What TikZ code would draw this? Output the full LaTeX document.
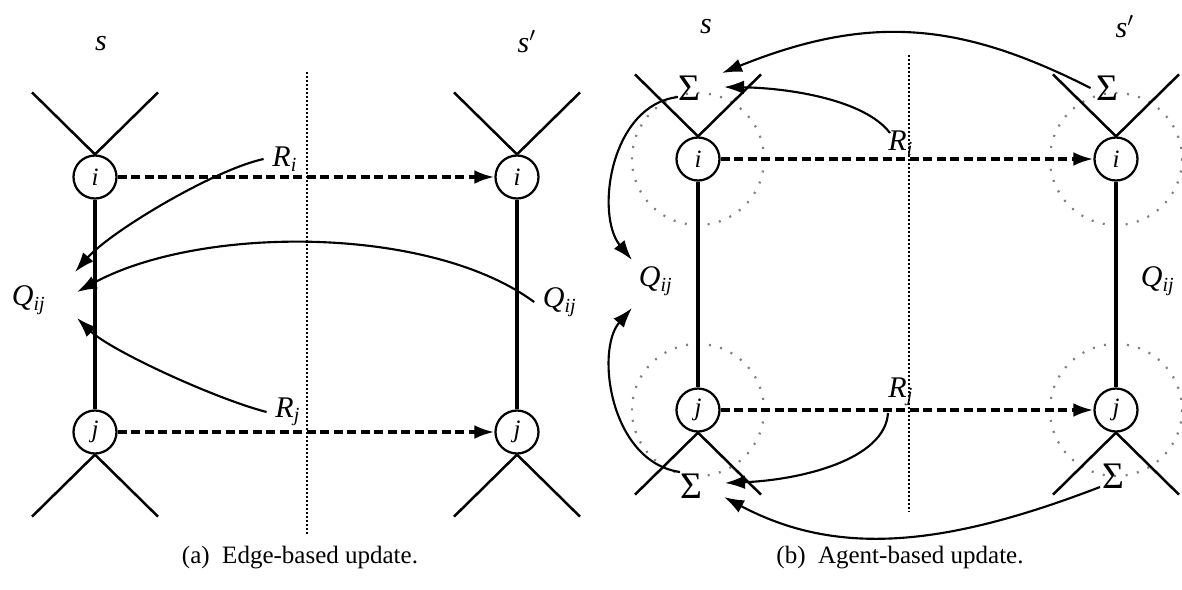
\documentclass[tikz,border=0pt]{standalone}
\usepackage{fontspec}
\setmainfont{Liberation Serif}
\usetikzlibrary{arrows.meta}

\begin{document}
\begin{tikzpicture}[x=0.4pt,y=-0.4pt,
  agent/.style={draw,circle,fill=white,line width=0.9pt,minimum size=17.2pt,inner sep=0pt,font=\itshape},
  lab/.style={font=\large\itshape},
  sig/.style={font=\fontsize{15}{15}\selectfont,inner sep=2pt},
  branch/.style={line width=1pt},
  link/.style={line width=1.4pt},
  msg/.style={line width=1.3pt,dash pattern=on 3.6pt off 1.8pt,-{Latex[length=8pt,width=5.5pt]}},
  upd/.style={line width=0.85pt,-{Latex[length=8pt,width=5.5pt]}},
  cut/.style={line width=0.6pt,dash pattern=on 0.8pt off 0.8pt},
  zone/.style={gray,line width=0.9pt,dash pattern=on 0.8pt off 3.8pt}]
\useasboundingbox (0,0) rectangle (1182,589);

% (a) edge-based
\draw[cut] (307,72) -- (307,535);
\node[lab] (as) at (101,44) {s};
\node[lab] (as2) at (527,42) {s$'$};
\node[agent] (ai) at (95,177) {i};
\node[agent] (aj) at (95,432) {j};
\node[agent] (a2i) at (517,177) {i};
\node[agent] (a2j) at (517,432) {j};
\foreach \n in {ai,a2i}{\draw[branch] (\n.north) -- +(-63,-62); \draw[branch] (\n.north) -- +(63,-62);}
\foreach \n in {aj,a2j}{\draw[branch] (\n.south) -- +(-63,62); \draw[branch] (\n.south) -- +(63,62);}
\draw[link] (ai) -- (aj);
\draw[link] (a2i) -- (a2j);
\draw[msg] (ai) -- (a2i);
\draw[msg] (aj) -- (a2j);
\node[lab] (aRi) at (285,159) {R\textsubscript{i}};
\node[lab] (aRj) at (288,412) {R\textsubscript{j}};
\node[lab] (aQ) at (29,300) {Q\textsubscript{ij}};
\node[lab] (aQ2) at (560,302) {Q\textsubscript{ij}};
\draw[upd] (aRi.west) .. controls (213,170) and (110,232) .. ([shift={(46,-28)}]aQ.center);
\draw[upd] (aQ2.west) .. controls (430,225) and (200,225) .. ([shift={(48,-8)}]aQ.center);
\draw[upd] (aRj.west) .. controls (213,398) and (110,350) .. ([shift={(48,18)}]aQ.center);
\node (capa) at (300,558) {(a)\enspace Edge-based update.};

% (b) agent-based
\foreach \p in {(698,159),(1116,159),(698,410),(1116,410)} \draw[zone] \p circle[radius=66];
\draw[cut] (909,55) -- (909,512);
\node[lab] (bs) at (706,27) {s};
\node[lab] (bs2) at (1125,27) {s$'$};
\node[agent] (bi) at (698,159) {i};
\node[agent] (bj) at (698,410) {j};
\node[agent] (b2i) at (1116,159) {i};
\node[agent] (b2j) at (1116,410) {j};
\foreach \n in {bi,b2i}{\draw[branch] (\n.north) -- +(-63,-62); \draw[branch] (\n.north) -- +(63,-62);}
\foreach \n in {bj,b2j}{\draw[branch] (\n.south) -- +(-63,62); \draw[branch] (\n.south) -- +(63,62);}
\draw[link] (bi) -- (bj);
\draw[link] (b2i) -- (b2j);
\draw[msg] (bi) -- (b2i);
\draw[msg] (bj) -- (b2j);
\node[sig] (bSi) at (689,88) {Σ};
\node[sig] (b2Si) at (1107,88) {Σ};
\node[sig] (bSj) at (691,486) {Σ};
\node[sig] (b2Sj) at (1113,476) {Σ};
\node[lab] (bRi) at (901,143) {R\textsubscript{i}};
\node[lab] (bRj) at (901,392) {R\textsubscript{j}};
\node[lab] (bQ) at (656,281) {Q\textsubscript{ij}};
\node[lab] (b2Q) at (1158,281) {Q\textsubscript{ij}};
\draw[upd] (b2Si.west) .. controls (964,24) and (873,12) .. ([shift={(33,-15)}]bSi.center);
\draw[upd] ([shift={(-11,-10)}]bRi.center) .. controls (865,100) and (790,88) .. ([shift={(35,-1)}]bSi.center);
\draw[upd] ([shift={(-11,9)}]bSi.center) .. controls (610,105) and (595,215) .. ([shift={(-24,-21)}]bQ.center);
\draw[upd] ([shift={(-11,-14)}]bSj.center) .. controls (610,462) and (595,350) .. ([shift={(-24,27)}]bQ.center);
\draw[upd] ([shift={(-13,21)}]bRj.center) .. controls (885,460) and (800,480) .. ([shift={(34,-3)}]bSj.center);
\draw[upd] ([shift={(-13,11)}]b2Sj.center) .. controls (944,547) and (837,557) .. ([shift={(33,11)}]bSj.center);
\node (capb) at (900,558) {(b)\enspace Agent-based update.};
\end{tikzpicture}
\end{document}
